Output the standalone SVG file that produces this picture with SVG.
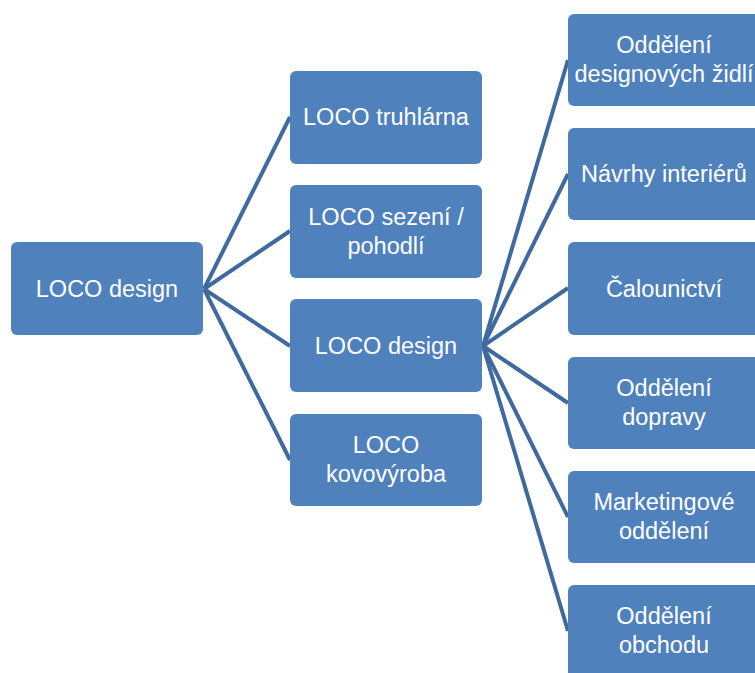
<svg xmlns="http://www.w3.org/2000/svg" width="755" height="673" viewBox="0 0 755 673">
<style>
.n rect{fill:#4F81BD;}
.n text{fill:#FFFFFF;font-family:"Liberation Sans",Arial,sans-serif;font-size:23.5px;text-anchor:middle;}
.c line{stroke:#3F6A9E;stroke-width:4;}
</style>
<rect width="755" height="673" fill="#FFFFFF"/>
<g id="connectors" class="c">
<line x1="204" y1="289" x2="290" y2="117"/>
<line x1="204" y1="289" x2="290" y2="231"/>
<line x1="204" y1="289" x2="290" y2="346"/>
<line x1="204" y1="289" x2="290" y2="460"/>
<line x1="483" y1="346" x2="568" y2="60"/>
<line x1="483" y1="346" x2="568" y2="174"/>
<line x1="483" y1="346" x2="568" y2="288"/>
<line x1="483" y1="346" x2="568" y2="403"/>
<line x1="483" y1="346" x2="568" y2="517"/>
<line x1="483" y1="346" x2="568" y2="631"/>
</g>
<g id="root" class="n"><rect x="11" y="242" width="192" height="93" rx="6"/><text x="107" y="297">LOCO design</text></g>
<g id="truhlarna" class="n"><rect x="290" y="71" width="192" height="93" rx="6"/><text x="386" y="125">LOCO truhlárna</text></g>
<g id="sezeni" class="n"><rect x="290" y="185" width="192" height="93" rx="6"/><text x="386" y="225">LOCO sezení /</text><text x="386" y="254">pohodlí</text></g>
<g id="design" class="n"><rect x="290" y="299" width="192" height="93" rx="6"/><text x="386" y="354">LOCO design</text></g>
<g id="kovovyroba" class="n"><rect x="290" y="414" width="192" height="92" rx="6"/><text x="386" y="453">LOCO</text><text x="386" y="482">kovovýroba</text></g>
<g id="zidli" class="n"><rect x="568" y="14" width="192" height="92" rx="6"/><text x="664" y="53">Oddělení</text><text x="664" y="82">designových židlí</text></g>
<g id="interieru" class="n"><rect x="568" y="128" width="192" height="92" rx="6"/><text x="664" y="182">Návrhy interiérů</text></g>
<g id="calounictvi" class="n"><rect x="568" y="242" width="192" height="93" rx="6"/><text x="664" y="297">Čalounictví</text></g>
<g id="dopravy" class="n"><rect x="568" y="357" width="192" height="92" rx="6"/><text x="664" y="396">Oddělení</text><text x="664" y="425">dopravy</text></g>
<g id="marketing" class="n"><rect x="568" y="471" width="192" height="92" rx="6"/><text x="664" y="510">Marketingové</text><text x="664" y="539">oddělení</text></g>
<g id="obchodu" class="n"><rect x="568" y="585" width="192" height="93" rx="6"/><text x="664" y="624">Oddělení</text><text x="664" y="653">obchodu</text></g>
</svg>
